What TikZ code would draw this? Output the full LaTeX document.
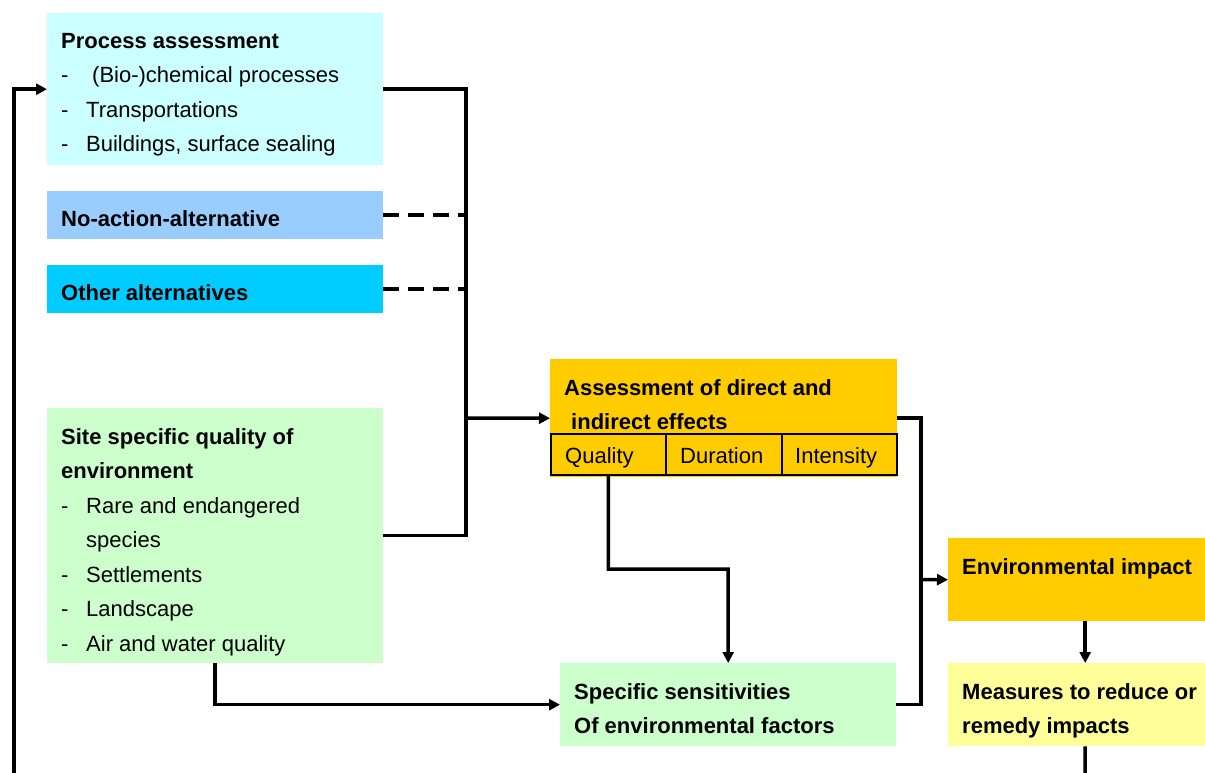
\documentclass[tikz,border=0pt]{standalone}
\usepackage{fontspec}
\setmainfont{Liberation Sans}
\usetikzlibrary{arrows.meta}
\definecolor{procbg}{HTML}{CCFFFF}
\definecolor{noactbg}{HTML}{99CCFF}
\definecolor{otherbg}{HTML}{00CCFF}
\definecolor{sitebg}{HTML}{CCFFCC}
\definecolor{goldbg}{HTML}{FFCC00}
\definecolor{measbg}{HTML}{FFFF99}
\newcommand\listitem[4]{%
  \node[txt] (#1d) at (61,#2) {-};
  \node[txt] (#1) at (#3,#2) {#4};}
\begin{document}
\begin{tikzpicture}[x=1pt,y=-1pt,
  box/.style={rectangle, draw=none, inner sep=0pt, anchor=north west},
  cell/.style={rectangle, draw=black, line width=1.5pt, inner sep=0pt, anchor=north west, minimum height=41pt},
  txt/.style={anchor=base west, inner sep=0pt, font=\fontsize{22pt}{26pt}\selectfont},
  btxt/.style={anchor=base west, inner sep=0pt, font=\fontsize{22pt}{26pt}\selectfont\bfseries},
  link/.style={line width=3.5pt},
  arr/.style={line width=3.5pt, -{Triangle[length=11pt,width=11pt]}},
  dashlink/.style={line width=3.5pt, dash pattern=on 16pt off 9pt}]
\useasboundingbox (0,0) rectangle (1205,772);
\clip (0,0) rectangle (1205,772);

% boxes
\node[box, fill=procbg, minimum width=336pt, minimum height=152pt] (pa) at (47,13) {};
\node[box, fill=noactbg, minimum width=336pt, minimum height=48pt] (noact) at (47,191) {};
\node[box, fill=otherbg, minimum width=336pt, minimum height=48pt] (other) at (47,265) {};
\node[box, fill=sitebg, minimum width=336pt, minimum height=255pt] (site) at (47,408) {};
\node[box, fill=goldbg, minimum width=347pt, minimum height=118pt] (asm) at (550,359) {};
\node[box, fill=goldbg, minimum width=274pt, minimum height=83pt] (env) at (948,538) {};
\node[box, fill=sitebg, minimum width=336pt, minimum height=83pt] (sens) at (560,663) {};
\node[box, fill=measbg, minimum width=274pt, minimum height=83pt] (meas) at (948,663) {};

% table of effect attributes
\node[cell, minimum width=115pt] (qual) at (550,433) {};
\node[cell, minimum width=116pt] (dur) at (665,433) {};
\node[cell, minimum width=115pt] (inten) at (781,433) {};

% texts
\node[btxt] (paT) at (61,48) {Process assessment};
\listitem{paA}{82.5}{92}{(Bio-)chemical processes}
\listitem{paB}{117}{86}{Transportations}
\listitem{paC}{151.5}{86}{Buildings, surface sealing}

\node[btxt] (noactT) at (61,226) {No-action-alternative};
\node[btxt] (otherT) at (61,300) {Other alternatives};

\node[btxt] (siteT1) at (61,444) {Site specific quality of};
\node[btxt] (siteT2) at (61,478.5) {environment};
\listitem{siteA}{513}{86}{Rare and endangered}
\node[txt] (siteA2) at (86,547.5) {species};
\listitem{siteB}{582}{86}{Settlements}
\listitem{siteC}{616.5}{86}{Landscape}
\listitem{siteD}{651}{86}{Air and water quality}

\node[btxt] (asmT1) at (564,395) {Assessment of direct and};
\node[btxt] (asmT2) at (571,429) {indirect effects};
\node[txt] (qualT) at (565,463) {Quality};
\node[txt] (durT) at (680,463) {Duration};
\node[txt] (intenT) at (795,463) {Intensity};

\node[btxt] (envT) at (962,574) {Environmental impact};
\node[btxt] (sensT1) at (574,699) {Specific sensitivities};
\node[btxt] (sensT2) at (574,733) {Of environmental factors};
\node[btxt] (measT1) at (962,699) {Measures to reduce or};
\node[btxt] (measT2) at (962,733) {remedy impacts};

% connectors
\coordinate (jL) at (466,418);
\coordinate (jR) at (921,579.5);
\coordinate (qbend) at (728,569);
\coordinate (loopR) at (1085,790);
\coordinate (loopL) at (14,790);

\draw[link] (pa.east) -| (jL) |- (site.east);
\draw[arr] (jL) -- (asm.west);
\draw[dashlink] (noact.east) -- (noact.east -| jL);
\draw[dashlink] (other.east) -- (other.east -| jL);
\draw[link] (asm.east) -| (jR) |- (sens.east);
\draw[arr] (jR) -- (env.west);
\draw[arr] (qual.south) |- (qbend) -- (sens.north);
\draw[arr] (site.south) |- (sens.west);
\draw[arr] (env.south) -- (meas.north);
\draw[link] (meas.south) -- (loopR);
\draw[arr] (loopL) |- (pa.west);
\end{tikzpicture}
\end{document}
